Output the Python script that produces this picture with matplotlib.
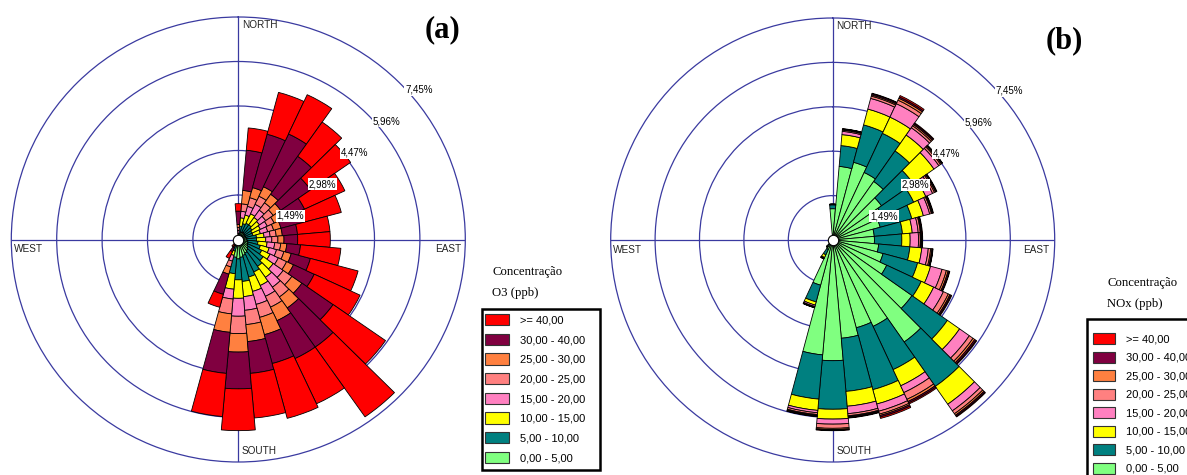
import numpy as np
import matplotlib
matplotlib.use("Agg")
import matplotlib.pyplot as plt
from matplotlib.patches import Patch, Rectangle

plt.rcParams['font.family'] = ['Liberation Sans', 'DejaVu Sans']

# 36 wind sectors, degrees clockwise from north
directions = np.arange(0, 360, 10)
ring_values = [1.49, 2.98, 4.47, 5.96, 7.45]
ring_labels = ['1,49%', '2,98%', '4,47%', '5,96%', '7,45%']

class_labels = ['0,00 - 5,00', '5,00 - 10,00', '10,00 - 15,00', '15,00 - 20,00',
                '20,00 - 25,00', '25,00 - 30,00', '30,00 - 40,00', '>= 40,00']
class_colors = ['#80FF80', '#008080', '#FFFF00', '#FF80C0',
                '#FF8080', '#FF8040', '#800040', '#FF0000']

Z = [0.0] * 13  # sectors 230..350 have no data

# O3 frequency (%) per concentration class and direction
o3_00_05 = [0.05, 0.20, 0.25, 0.28, 0.28, 0.25, 0.25, 0.25, 0.28, 0.28, 0.30, 0.33,
            0.35, 0.40, 0.45, 0.50, 0.55, 0.60, 0.65, 0.60, 0.20, 0.05, 0.02] + Z
o3_05_10 = [0.07, 0.25, 0.30, 0.32, 0.32, 0.30, 0.25, 0.25, 0.32, 0.32, 0.35, 0.42,
            0.50, 0.60, 0.65, 0.70, 0.75, 0.81, 0.70, 0.55, 0.20, 0.05, 0.02] + Z
o3_10_15 = [0.08, 0.28, 0.30, 0.35, 0.30, 0.30, 0.30, 0.25, 0.25, 0.30, 0.30, 0.30,
            0.30, 0.40, 0.45, 0.50, 0.50, 0.51, 0.62, 0.52, 0.15, 0.05, 0.02] + Z
o3_15_20 = [0.10, 0.22, 0.30, 0.35, 0.30, 0.25, 0.25, 0.25, 0.20, 0.20, 0.25, 0.25,
            0.30, 0.40, 0.40, 0.40, 0.45, 0.46, 0.60, 0.33, 0.20, 0.05, 0.02] + Z
o3_20_25 = [0.10, 0.25, 0.30, 0.30, 0.30, 0.30, 0.25, 0.20, 0.20, 0.20, 0.20, 0.25,
            0.30, 0.35, 0.40, 0.40, 0.45, 0.48, 0.58, 0.50, 0.20, 0.05, 0.02] + Z
o3_25_30 = [0.10, 0.45, 0.35, 0.35, 0.35, 0.30, 0.25, 0.25, 0.20, 0.20, 0.20, 0.25,
            0.25, 0.40, 0.45, 0.50, 0.60, 0.57, 0.62, 0.62, 0.25, 0.05, 0.02] + Z
o3_30_40 = [0.45, 1.35, 1.85, 1.95, 1.55, 1.20, 0.85, 0.75, 0.50, 0.45, 0.45, 0.65,
            0.75, 1.25, 1.60, 1.40, 1.00, 1.07, 1.23, 1.38, 0.70, 0.15, 0.08] + Z
o3_40_up = [0.25, 0.75, 1.45, 1.45, 1.40, 1.60, 1.46, 1.30, 1.07, 1.07, 1.33, 1.62,
            1.66, 2.10, 2.85, 1.67, 1.90, 1.50, 1.40, 1.45, 0.45, 0.25, 0.10] + Z

# NOx frequency (%) per concentration class and direction
nox_00_05 = [1.05, 2.48, 2.70, 2.50, 2.40, 2.00, 1.85, 1.65, 1.40, 1.40, 1.55, 1.75,
             2.00, 3.25, 4.18, 3.20, 3.05, 3.31, 4.05, 3.87, 1.57, 0.35, 0.20] + Z
nox_05_10 = [0.13, 0.70, 1.30, 1.45, 1.25, 1.30, 1.15, 1.10, 0.95, 0.92, 1.05, 1.20,
             1.28, 1.45, 1.82, 1.60, 2.15, 1.79, 1.63, 1.49, 0.58, 0.20, 0.07] + Z
nox_10_15 = [0.01, 0.37, 0.55, 0.60, 0.65, 0.85, 0.45, 0.40, 0.33, 0.28, 0.40, 0.45,
             0.46, 0.50, 0.73, 0.60, 0.50, 0.50, 0.33, 0.38, 0.11, 0.10, 0.02] + Z
nox_15_20 = [0.01, 0.11, 0.37, 0.50, 0.30, 0.20, 0.25, 0.22, 0.20, 0.28, 0.22, 0.40,
             0.36, 0.40, 0.27, 0.25, 0.25, 0.25, 0.17, 0.08, 0.05, 0.03, 0.01] + Z
nox_20_25 = [0.00, 0.04, 0.08, 0.13, 0.08, 0.07, 0.07, 0.06, 0.07, 0.06, 0.08, 0.15,
             0.18, 0.15, 0.12, 0.25, 0.10, 0.07, 0.14, 0.06, 0.02, 0.01, 0.00] + Z
nox_25_30 = [0.00, 0.02, 0.04, 0.07, 0.05, 0.04, 0.04, 0.03, 0.03, 0.03, 0.04, 0.06,
             0.06, 0.07, 0.06, 0.08, 0.05, 0.03, 0.04, 0.03, 0.01, 0.01, 0.00] + Z
nox_30_40 = [0.00, 0.02, 0.04, 0.05, 0.04, 0.03, 0.03, 0.02, 0.02, 0.03, 0.03, 0.04,
             0.04, 0.05, 0.04, 0.05, 0.05, 0.03, 0.02, 0.03, 0.01, 0.00, 0.00] + Z
nox_40_up = [0.00, 0.01, 0.02, 0.05, 0.03, 0.01, 0.02, 0.02, 0.02, 0.02, 0.01, 0.02,
             0.03, 0.03, 0.03, 0.04, 0.05, 0.02, 0.02, 0.01, 0.00, 0.00, 0.00] + Z

o3_classes = [o3_00_05, o3_05_10, o3_10_15, o3_15_20, o3_20_25, o3_25_30, o3_30_40, o3_40_up]
nox_classes = [nox_00_05, nox_05_10, nox_10_15, nox_15_20, nox_20_25, nox_25_30, nox_30_40, nox_40_up]

GRID = '#3A3AA0'
W, H = 1187, 475


def draw_rose(ax, classes, east_x):
    ax.set_theta_zero_location('N')
    ax.set_theta_direction(-1)
    theta = np.deg2rad(directions)
    width = np.deg2rad(10)
    bottom = np.zeros(len(directions))
    for vals, col in zip(classes, class_colors):
        vals = np.array(vals)
        ax.bar(theta, vals, width=width, bottom=bottom, color=col,
               edgecolor='black', linewidth=0.6, zorder=2)
        bottom = bottom + vals
    ax.set_ylim(0, ring_values[-1])
    ax.set_rgrids(ring_values[:-1], labels=[])
    ax.set_thetagrids([0, 90, 180, 270], labels=[])
    ax.grid(True, color=GRID, linewidth=0.9)
    ax.set_axisbelow(True)
    ax.spines['polar'].set_color(GRID)
    ax.spines['polar'].set_linewidth(0.9)
    ax.tick_params(pad=0, length=0)
    # calm circle in the middle
    ax.plot([0], [0], 'o', ms=7.5, mfc='white', mec='black', mew=0.8, zorder=5)
    for r, lab in zip(ring_values, ring_labels):
        ax.annotate(lab, xy=(np.deg2rad(45), r), xytext=(4.5, -5.5),
                    textcoords='offset points', ha='left', va='center',
                    fontsize=7, zorder=6,
                    bbox=dict(facecolor='white', edgecolor='none', pad=0.6))
    kw = dict(transform=ax.transAxes, fontsize=7.2, color='#222222')
    ax.text(0.508, 0.982, 'NORTH', ha='left', va='center', **kw)
    ax.text(0.508, 0.025, 'SOUTH', ha='left', va='center', **kw)
    ax.text(0.005, 0.478, 'WEST', ha='left', va='center', **kw)
    ax.text(east_x, 0.478, 'EAST', ha='right', va='center', **kw)


fig = plt.figure(figsize=(W / 100, H / 100), dpi=100)

# left rose is drawn slightly wider than tall, as in the original figure
ax_a = fig.add_axes([11.3 / W, 13 / H, 454 / W, 445 / H], projection='polar')
ax_a.set_aspect('auto')
draw_rose(ax_a, o3_classes, 0.99)
ax_b = fig.add_axes([610.7 / W, 13 / H, 444 / W, 444 / H], projection='polar')
draw_rose(ax_b, nox_classes, 0.987)

fig.text(443 / W, 1 - 30 / H, '(a)', ha='center', va='center', fontsize=22,
         fontweight='bold', family='Liberation Serif')
fig.text(1064 / W, 1 - 41 / H, '(b)', ha='center', va='center', fontsize=22,
         fontweight='bold', family='Liberation Serif')

handles = [Patch(facecolor=c, edgecolor='#333333', linewidth=0.8) for c in class_colors]
handles = handles[::-1]
labels = class_labels[::-1]

# legend (a)
fig.text(492 / W, 1 - 272 / H, 'Concentração', fontsize=9.2,
         family='Liberation Serif', va='center')
fig.text(492 / W, 1 - 293 / H, 'O3 (ppb)', fontsize=9.2,
         family='Liberation Serif', va='center')
fig.patches.append(Rectangle((482 / W, 1 - 470 / H), 118 / W, 161 / H,
                             transform=fig.transFigure, facecolor='white',
                             edgecolor='black', linewidth=1.8, zorder=1))
fig.legend(handles, labels, loc='upper left',
           bbox_to_anchor=(485 / W, 1 - 314 / H), fontsize=8,
           handlelength=2.2, handleheight=1.2, handletextpad=0.95,
           labelspacing=0.74, borderpad=0, borderaxespad=0, frameon=False)

# legend (b), partly outside the picture as in the original
fig.text(1107 / W, 1 - 283 / H, 'Concentração', fontsize=9.2,
         family='Liberation Serif', va='center')
fig.text(1107 / W, 1 - 304 / H, 'NOx (ppb)', fontsize=9.2,
         family='Liberation Serif', va='center')
fig.patches.append(Rectangle((1087 / W, 1 - 520 / H), 200 / W, 201 / H,
                             transform=fig.transFigure, facecolor='white',
                             edgecolor='black', linewidth=1.8, zorder=1))
fig.legend(handles, labels, loc='upper left',
           bbox_to_anchor=(1093 / W, 1 - 333 / H), fontsize=8,
           handlelength=2.0, handleheight=1.15, handletextpad=0.95,
           labelspacing=0.65, borderpad=0, borderaxespad=0, frameon=False)

fig.savefig('out.png', dpi=100)
